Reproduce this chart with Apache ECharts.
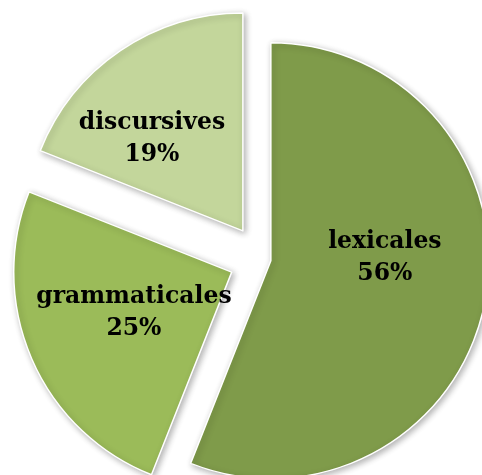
<!DOCTYPE html>
<html>
<head>
<meta charset="utf-8">
<script src="https://cdn.jsdelivr.net/npm/echarts@6/dist/echarts.min.js"></script>
<style>
  html, body { margin: 0; padding: 0; background: #ffffff; }
  #chart { width: 482px; height: 475px; }
</style>
</head>
<body>
<div id="chart"></div>
<script>
// Types d'erreurs (en %)
const categories = ['lexicales', 'grammaticales', 'discursives'];
const values = [56, 25, 19];

// Slice styling
const sliceColors = ['#7f9b4a', '#9bbb59', '#c3d69b'];
const explodeOffsets = [9, 33, 34];
const labelShift = [[4, -24], [5, -4], [-28, 1]];

const chart = echarts.init(document.getElementById('chart'), null, { renderer: 'canvas' });

// One pie layer per slice so each slice can be pulled out by its own distance;
// the other slices in a layer are left invisible.
const series = categories.map((_, owner) => ({
  type: 'pie',
  center: [262, 259],
  radius: [0, 218],
  startAngle: 90,
  clockwise: true,
  silent: true,
  selectedMode: 'multiple',
  selectedOffset: explodeOffsets[owner],
  animation: false,
  emphasis: { disabled: true },
  labelLine: { show: false },
  labelLayout: (p) => ({ dx: labelShift[owner][0], dy: labelShift[owner][1] }),
  data: categories.map((name, i) => ({
    name: name,
    value: values[i],
    selected: i === owner,
    itemStyle: i === owner ? {
      color: sliceColors[i],
      borderColor: '#ffffff',
      borderWidth: 1.5,
      shadowBlur: 6,
      shadowOffsetX: 2,
      shadowOffsetY: 2,
      shadowColor: 'rgba(0,0,0,0.3)'
    } : { color: 'rgba(0,0,0,0)', borderWidth: 0 },
    label: i === owner ? {
      show: true,
      position: 'inside',
      formatter: '{b}\n{d}%',
      color: '#000000',
      fontFamily: 'DejaVu Serif',
      fontWeight: 'bold',
      fontSize: 23.5,
      lineHeight: 32,
      align: 'center'
    } : { show: false }
  }))
}));

chart.setOption({
  backgroundColor: '#ffffff',
  series: series
});
</script>
</body>
</html>
